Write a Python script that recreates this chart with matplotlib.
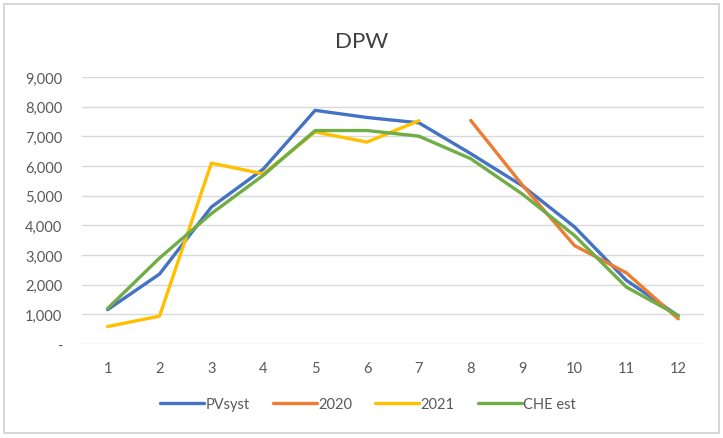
import numpy as np
import matplotlib
matplotlib.use("Agg")
import matplotlib.pyplot as plt
from matplotlib.patches import Rectangle
from matplotlib.ticker import FuncFormatter

plt.rcParams['font.family'] = ['Lato', 'DejaVu Sans']

months = list(range(1, 13))
pvsyst = [1160, 2360, 4620, 5900, 7880, 7640, 7460, 6420, 5330, 3950, 2150, 950]
y2020 = [np.nan] * 7 + [7540, 5350, 3320, 2400, 850]
y2021 = [590, 940, 6100, 5740, 7150, 6810, 7530] + [np.nan] * 5
che_est = [1200, 2900, 4400, 5690, 7200, 7200, 7010, 6250, 5050, 3660, 1920, 960]

series = [
    ("PVsyst", pvsyst, "#4472C4"),
    ("2020", y2020, "#ED7D31"),
    ("2021", y2021, "#FFC000"),
    ("CHE est", che_est, "#70AD47"),
]

fig = plt.figure(figsize=(7.23, 4.39), dpi=100)
fig.patches.append(Rectangle((0.006, 0.012), 0.988, 0.976, transform=fig.transFigure,
                             fill=False, edgecolor="#D0D0D0", linewidth=1.2))

ax = fig.add_axes([0.113, 0.214, 0.861, 0.608])
for name, vals, col in series:
    ax.plot(months, vals, color=col, lw=2.4, label=name, solid_capstyle="round")

ax.set_xlim(0.5, 12.5)
ax.set_ylim(0, 9000)
ax.set_xticks(months)
ax.set_yticks(range(0, 9001, 1000))
ax.yaxis.set_major_formatter(FuncFormatter(lambda v, p: "-" if v == 0 else f"{int(v):,}"))
ax.grid(axis="y", color="#D9D9D9", lw=1)
ax.set_axisbelow(True)
for s in ax.spines.values():
    s.set_visible(False)
ax.tick_params(length=0, labelsize=10.5, labelcolor="#595959")
ax.tick_params(axis="y", pad=14)
ax.tick_params(axis="x", pad=12)

fig.text(0.5, 0.905, "DPW", ha="center", va="center", fontsize=16, color="#404040")

ax.legend(loc="upper center", bbox_to_anchor=(0.46, -0.15), ncol=4, frameon=False,
          fontsize=10.5, handlelength=3.0, handletextpad=0.1, columnspacing=1.6,
          labelcolor="#595959")

fig.savefig("out.png", dpi=100, facecolor="white")
